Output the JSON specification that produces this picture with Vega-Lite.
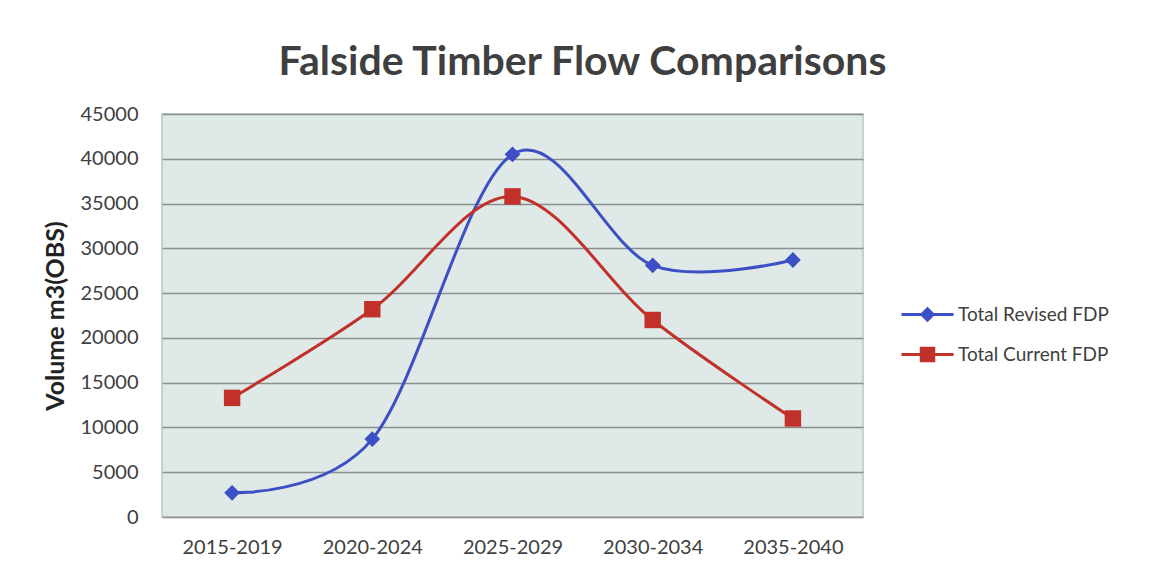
{
  "$schema": "https://vega.github.io/schema/vega-lite/v6.json",
  "autosize": {"type": "none"},
  "width": 701,
  "height": 403,
  "padding": {"left": 162, "top": 114, "right": 292, "bottom": 57},
  "background": "white",
  "config": {
    "font": "Lato",
    "view": {"fill": "#dfeae8", "stroke": "#b9c6c3", "strokeWidth": 1.5}
  },
  "title": {
    "text": "Falside Timber Flow Comparisons",
    "fontSize": 41,
    "fontWeight": "bold",
    "font": "Lato",
    "color": "#3f3f3f",
    "anchor": "middle",
    "frame": "group",
    "dx": 70,
    "offset": 20
  },
  "data": {
    "values": [
      {"period": "2015-2019", "series": "Total Revised FDP", "value": 2700},
      {"period": "2020-2024", "series": "Total Revised FDP", "value": 8700},
      {"period": "2025-2029", "series": "Total Revised FDP", "value": 40500},
      {"period": "2030-2034", "series": "Total Revised FDP", "value": 28100},
      {"period": "2035-2040", "series": "Total Revised FDP", "value": 28700},
      {"period": "2015-2019", "series": "Total Current FDP", "value": 13300},
      {"period": "2020-2024", "series": "Total Current FDP", "value": 23200},
      {"period": "2025-2029", "series": "Total Current FDP", "value": 35800},
      {"period": "2030-2034", "series": "Total Current FDP", "value": 22000},
      {"period": "2035-2040", "series": "Total Current FDP", "value": 11000}
    ]
  },
  "encoding": {
    "x": {
      "field": "period",
      "type": "ordinal",
      "scale": {"type": "point", "padding": 0.5},
      "axis": {
        "title": null,
        "labelAngle": 0,
        "domain": false,
        "ticks": false,
        "grid": false,
        "labelFontSize": 20,
        "labelColor": "#404040",
        "labelPadding": 20
      }
    },
    "y": {
      "field": "value",
      "type": "quantitative",
      "scale": {"domain": [0, 45000], "nice": false},
      "axis": {
        "title": "Volume m3(OBS)",
        "titleFontSize": 25,
        "titleFontWeight": "bold",
        "titleColor": "#222222",
        "titlePadding": 12,
        "values": [0, 5000, 10000, 15000, 20000, 25000, 30000, 35000, 40000, 45000],
        "format": "d",
        "domain": false,
        "ticks": false,
        "grid": true,
        "gridColor": "#8a8f8e",
        "gridWidth": 1.5,
        "labelFontSize": 20,
        "labelColor": "#404040",
        "labelPadding": 24
      }
    }
  },
  "layer": [
    {
      "transform": [{"filter": "datum.series == 'Total Revised FDP'"}],
      "mark": {"type": "line", "interpolate": "cardinal", "strokeWidth": 3, "color": "#3d4fc4"}
    },
    {
      "transform": [{"filter": "datum.series == 'Total Current FDP'"}],
      "mark": {"type": "line", "interpolate": "cardinal", "strokeWidth": 3, "color": "#c2302a"}
    },
    {
      "transform": [{"filter": "datum.series == 'Total Revised FDP'"}],
      "mark": {"type": "point", "filled": true, "opacity": 1, "shape": "diamond", "size": 250, "color": "#3d4fc4"}
    },
    {
      "transform": [{"filter": "datum.series == 'Total Current FDP'"}],
      "mark": {"type": "point", "filled": true, "opacity": 1, "shape": "square", "size": 270, "color": "#c2302a"}
    },
    {
      "transform": [{"filter": "datum.value < 0"}],
      "mark": {"type": "point", "filled": true, "opacity": 1},
      "encoding": {
        "color": {
          "field": "series",
          "type": "nominal",
          "scale": {
            "domain": ["Total Revised FDP", "Total Current FDP"],
            "range": ["#3d4fc4", "#c2302a"]
          },
          "legend": {
            "title": null,
            "orient": "none",
            "legendX": 738,
            "legendY": 173,
            "labelFontSize": 19,
            "labelColor": "#404040",
            "symbolSize": 2704,
            "symbolStrokeWidth": 3,
            "rowPadding": -10,
            "labelOffset": 3
          }
        },
        "stroke": {
          "field": "series",
          "type": "nominal",
          "scale": {
            "domain": ["Total Revised FDP", "Total Current FDP"],
            "range": ["#3d4fc4", "#c2302a"]
          },
          "legend": {"title": null}
        },
        "shape": {
          "field": "series",
          "type": "nominal",
          "scale": {
            "domain": ["Total Revised FDP", "Total Current FDP"],
            "range": ["M-1,0H1M0,-0.22L0.22,0L0,0.22L-0.22,0Z", "M-1,0H1M-0.24,-0.24H0.24V0.24H-0.24Z"]
          },
          "legend": {"title": null}
        }
      }
    }
  ]
}
